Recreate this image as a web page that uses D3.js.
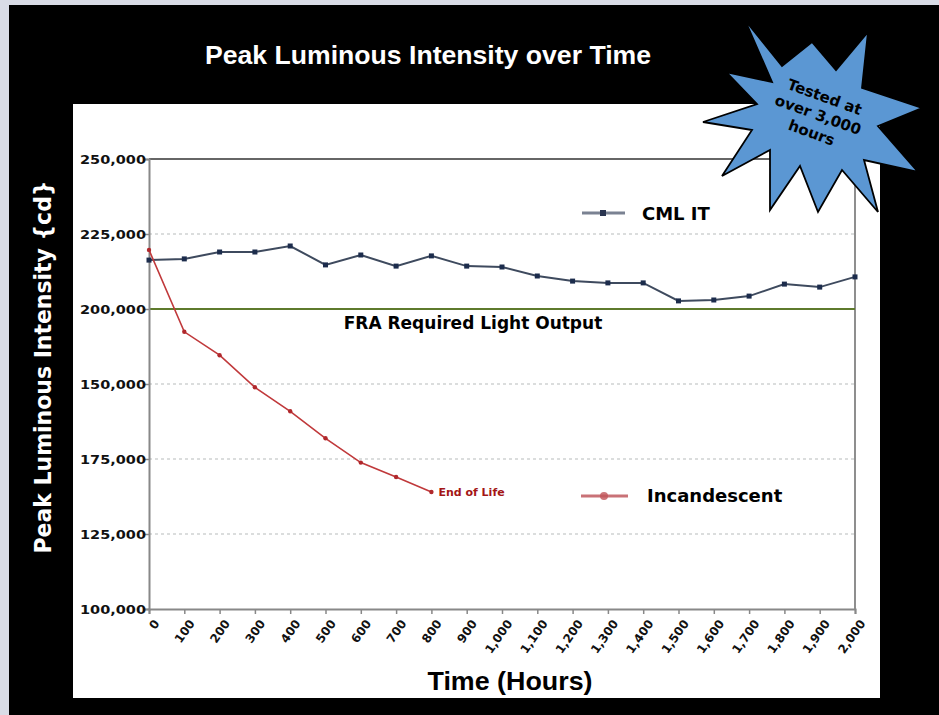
<!DOCTYPE html>
<html><head><meta charset="utf-8">
<script src="https://cdn.jsdelivr.net/npm/d3@7"></script>
<style>html,body{margin:0;padding:0;background:#000;}svg{display:block;}</style>
</head><body>
<svg id="c" width="939" height="715"></svg>
<script>
const hours = [0,100,200,300,400,500,600,700,800,900,1000,1100,1200,1300,1400,1500,1600,1700,1800,1900,2000];
const cmlIT = [216300,216700,219000,219000,221000,214700,218000,214300,217700,214300,214000,211000,209300,208700,208700,202700,203000,204300,208300,207300,210700];
const incHours = [0,100,200,300,400,500,600,700,800];
const incandescent = [219700,192400,184600,173900,165900,156900,148800,144000,139000];
const yTickValues = [100000,125000,150000,175000,200000,225000,250000];
const yTickLabels = ["100,000","125,000","175,000","150,000","200,000","225,000","250,000"];
const xTickLabels = ["0","100","200","300","400","500","600","700","800","900","1,000","1,100","1,200","1,300","1,400","1,500","1,600","1,700","1,800","1,900","2,000"];
const threshold = 200000;

const svg = d3.select("#c");
// background bleed
svg.append("rect").attr("x",0).attr("y",0).attr("width",939).attr("height",715).attr("fill","#d9dce6");
svg.append("rect").attr("x",9).attr("y",5).attr("width",930).attr("height",710).attr("fill","#000");
// white panel
svg.append("rect").attr("x",73).attr("y",104).attr("width",807).attr("height",594).attr("fill","#fff");

const L=149,R=855,T=159,B=609;
const x = d3.scaleLinear().domain([0,2000]).range([L,R]);
const y = d3.scaleLinear().domain([100000,250000]).range([B,T]);

// gridlines
svg.append("g").selectAll("line").data(yTickValues.filter(v=>v!==250000 && v!==200000 && v!==100000)).join("line")
  .attr("x1",L).attr("x2",R).attr("y1",d=>y(d)).attr("y2",d=>y(d))
  .attr("stroke","#b8bcbc").attr("stroke-width",1.2).attr("stroke-dasharray","3,3");

// top & right border
svg.append("line").attr("x1",L).attr("x2",R).attr("y1",T).attr("y2",T).attr("stroke","#333").attr("stroke-width",1.5);
svg.append("line").attr("x1",R).attr("x2",R).attr("y1",T).attr("y2",B).attr("stroke","#444").attr("stroke-width",1.2);

// threshold
svg.append("line").attr("x1",L).attr("x2",R).attr("y1",y(threshold)).attr("y2",y(threshold)).attr("stroke","#5e7a2c").attr("stroke-width",2);

// axes
const yAxis = d3.axisLeft(y).tickValues(yTickValues).tickFormat((d,i)=>yTickLabels[i]).tickSize(4);
const gy = svg.append("g").attr("transform",`translate(${L},0)`).call(yAxis);
gy.select(".domain").attr("stroke","#888").attr("stroke-width",2);
gy.selectAll(".tick line").attr("stroke","#888").attr("stroke-width",1.5);
gy.selectAll(".tick text").attr("font-family","DejaVu Sans").attr("font-weight","bold").attr("font-size","12.5px")
  .attr("fill","#111").attr("x",-3).attr("textLength",66).attr("lengthAdjust","spacingAndGlyphs");

const xAxis = d3.axisBottom(x).tickValues(hours).tickFormat((d,i)=>xTickLabels[i]).tickSize(5);
const gx = svg.append("g").attr("transform",`translate(0,${B})`).call(xAxis);
gx.select(".domain").attr("stroke","#888").attr("stroke-width",2);
gx.selectAll(".tick line").attr("stroke","#888").attr("stroke-width",1.5);
gx.selectAll(".tick text").attr("font-family","DejaVu Sans").attr("font-weight","bold").attr("font-size","12px")
  .attr("fill","#111").attr("text-anchor","end").attr("dy","0.35em")
  .attr("transform","translate(7,12) rotate(-55)").attr("y",0).attr("x",0);

// CML IT line
const line = d3.line().x(d=>x(d[0])).y(d=>y(d[1]));
svg.append("path").datum(hours.map((h,i)=>[h,cmlIT[i]])).attr("d",line)
  .attr("fill","none").attr("stroke","#3e4a5e").attr("stroke-width",2);
svg.append("g").selectAll("rect").data(hours.map((h,i)=>[h,cmlIT[i]])).join("rect")
  .attr("x",d=>x(d[0])-2.5).attr("y",d=>y(d[1])-2.5).attr("width",5).attr("height",5).attr("fill","#1c2c4c");

// Incandescent line
svg.append("path").datum(incHours.map((h,i)=>[h,incandescent[i]])).attr("d",line)
  .attr("fill","none").attr("stroke","#c0393b").attr("stroke-width",1.6);
svg.append("g").selectAll("circle").data(incHours.map((h,i)=>[h,incandescent[i]])).join("circle")
  .attr("cx",d=>x(d[0])).attr("cy",d=>y(d[1])).attr("r",2.2).attr("fill","#b0282c");

// labels
svg.append("text").attr("x",x(800)+7).attr("y",y(139000)+4).text("End of Life")
  .attr("font-family","DejaVu Sans").attr("font-weight","bold").attr("font-size","11px").attr("fill","#a31515");
svg.append("text").attr("x",473).attr("y",y(threshold)+20).attr("text-anchor","middle").text("FRA Required Light Output")
  .attr("font-family","DejaVu Sans").attr("font-weight","bold").attr("font-size","17px").attr("fill","#000");

// legend
const lg1 = svg.append("g");
lg1.append("line").attr("x1",582).attr("x2",625).attr("y1",213).attr("y2",213).attr("stroke","#5a6478").attr("stroke-width",3).attr("opacity",0.8);
lg1.append("rect").attr("x",600).attr("y",210).attr("width",6).attr("height",6).attr("fill","#2a3550");
lg1.append("text").attr("x",642).attr("y",220).text("CML IT").attr("font-family","DejaVu Sans").attr("font-weight","bold").attr("font-size","18px");
const lg2 = svg.append("g");
lg2.append("line").attr("x1",581).attr("x2",628).attr("y1",496).attr("y2",496).attr("stroke","#b8444a").attr("stroke-width",3).attr("opacity",0.75);
lg2.append("circle").attr("cx",604).attr("cy",496).attr("r",4).attr("fill","#c0555a").attr("opacity",0.8);
lg2.append("text").attr("x",647).attr("y",502).text("Incandescent").attr("font-family","DejaVu Sans").attr("font-weight","bold").attr("font-size","18px");

// titles
svg.append("text").attr("x",428).attr("y",64).attr("text-anchor","middle").text("Peak Luminous Intensity over Time")
  .attr("font-family","Liberation Sans").attr("font-weight","bold").attr("font-size","26px").attr("fill","#fff")
  .attr("textLength",446).attr("lengthAdjust","spacingAndGlyphs");
svg.append("text").attr("transform","translate(51,367) rotate(-90)").attr("text-anchor","middle").text("Peak Luminous Intensity {cd}")
  .attr("font-family","DejaVu Sans").attr("font-weight","bold").attr("font-size","23px").attr("fill","#fff")
  .attr("textLength",373).attr("lengthAdjust","spacingAndGlyphs");
svg.append("text").attr("x",510).attr("y",690).attr("text-anchor","middle").text("Time (Hours)")
  .attr("font-family","Liberation Sans").attr("font-weight","bold").attr("font-size","26px").attr("fill","#000")
  .attr("textLength",165).attr("lengthAdjust","spacingAndGlyphs");

// starburst
const star = [[745,20],[782,66],[812,42],[836,70],[868,32],[862,88],[922,108],[878,126],[918,172],[864,160],[878,212],[842,170],[818,212],[800,166],[770,210],[770,150],[722,176],[752,130],[703,122],[757,104],[726,72],[772,82]];
svg.append("polygon").attr("points",star.map(p=>p.join(",")).join(" "))
  .attr("fill","#5b97d3").attr("stroke","#000").attr("stroke-width",1.8).attr("stroke-linejoin","miter");
const st = svg.append("g").attr("transform","translate(818,115) rotate(20)");
["Tested at","over 3,000","hours"].forEach((t,i)=>{
  st.append("text").attr("x",0).attr("y",(i-1)*19+5).attr("text-anchor","middle").text(t)
    .attr("font-family","DejaVu Sans").attr("font-weight","bold").attr("font-size","15px").attr("fill","#000");
});
</script>
</body></html>
